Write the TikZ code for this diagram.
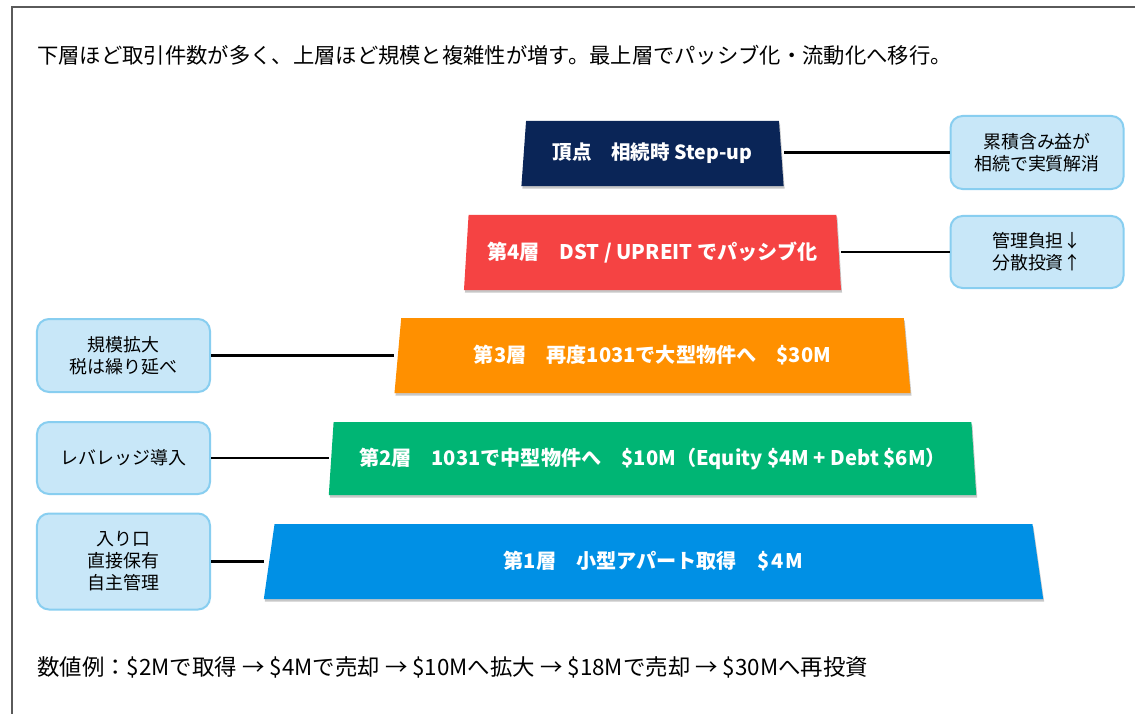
\documentclass[tikz,border=0pt]{standalone}
\usepackage{fontspec}
\setmainfont{Noto Sans CJK JP}
\usetikzlibrary{shapes.geometric,shadows}
\definecolor{navy}{HTML}{0A2557}
\definecolor{tierred}{HTML}{F54343}
\definecolor{tierorange}{HTML}{FF9000}
\definecolor{tiergreen}{HTML}{00B574}
\definecolor{tierblue}{HTML}{0090E5}
\definecolor{notefill}{HTML}{C8E7F8}
\definecolor{noteline}{HTML}{88CEF0}
\definecolor{framegray}{HTML}{5A5A5A}
\begin{document}
\begin{tikzpicture}[x=1bp,y=-1bp,
  layer/.style={shape=trapezium, trapezium stretches=true, inner sep=0pt,
    text=white, font=\bfseries\fontsize{20.2}{23}\selectfont,
    drop shadow={shadow xshift=1bp, shadow yshift=-2.5bp, opacity=0.22, fill=black}},
  note/.style={draw=noteline, fill=notefill, line width=2bp, rounded corners=12bp,
    minimum width=173bp, inner sep=0pt, align=center,
    font=\fontsize{18}{22}\selectfont},
  link/.style={line width=2.5bp, black},
  caption/.style={anchor=west, inner sep=0pt}]
\useasboundingbox (0,0) rectangle (1135,714);
\fill[white] (0,0) rectangle (1135,714);
\draw[framegray, line width=2bp] (12,714) -- (12,7) -- (1135,7);

\node[caption, font=\fontsize{21.4}{24}\selectfont] (title) at (37,55) {下層ほど取引件数が多く、上層ほど規模と複雑性が増す。最上層でパッシブ化・流動化へ移行。};

\node[layer, fill=navy, minimum width=263bp, minimum height=65bp, trapezium angle=80, font=\bfseries\fontsize{19.6}{23}\selectfont] (apex) at (652.5,153.5) {頂点　相続時 Step-up};
\node[layer, fill=tierred, minimum width=378bp, minimum height=75bp, trapezium angle=79] (t4) at (652.5,252.5) {第4層　DST / UPREIT でパッシブ化};
\node[layer, fill=tierorange, minimum width=519bp, minimum height=75bp, trapezium angle=76.5] (t3) at (652.5,355.5) {第3層　再度1031で大型物件へ　\$30M};
\node[layer, fill=tiergreen, minimum width=651bp, minimum height=73bp, trapezium angle=78.5] (t2) at (652.5,458.5) {第2層　1031で中型物件へ　\$10M（Equity \$4M + Debt \$6M）};
\node[layer, fill=tierblue, minimum width=783bp, minimum height=75bp, trapezium angle=78] (t1) at (653.5,561.5) {第1層　小型アパート取得　\$\kern2bp 4\kern2bp M};

\node[note, minimum height=73bp] (n1) at (1037,152.5) {累積含み益が\\相続で実質解消};
\node[note, minimum height=72bp] (n2) at (1037,252) {管理負担↓\\分散投資↑};
\node[note, minimum height=73bp] (n3) at (123.5,355.5) {規模拡大\\税は繰り延べ};
\node[note, minimum height=72bp] (n4) at (123.5,458) {レバレッジ導入};
\node[note, minimum height=96bp] (n5) at (123.5,561.5) {入り口\\直接保有\\自主管理};

\draw[link] (n1.west) -- (n1.west -| apex.bottom right corner);
\draw[link] (n2.west) -- (n2.west -| t4.bottom right corner);
\draw[link] (n3.east) -- (n3.east -| t3.bottom left corner);
\draw[link] (n4.east) -- (n4.east -| t2.bottom left corner);
\draw[link] (n5.east) -- (n5.east -| t1.bottom left corner);

\node[caption, font=\fontsize{22.5}{26}\selectfont] (example) at (37,667) {数値例：\$2Mで取得 → \$4Mで売却 → \$10Mへ拡大 → \$18Mで売却 → \$30Mへ再投資};
\end{tikzpicture}
\end{document}
